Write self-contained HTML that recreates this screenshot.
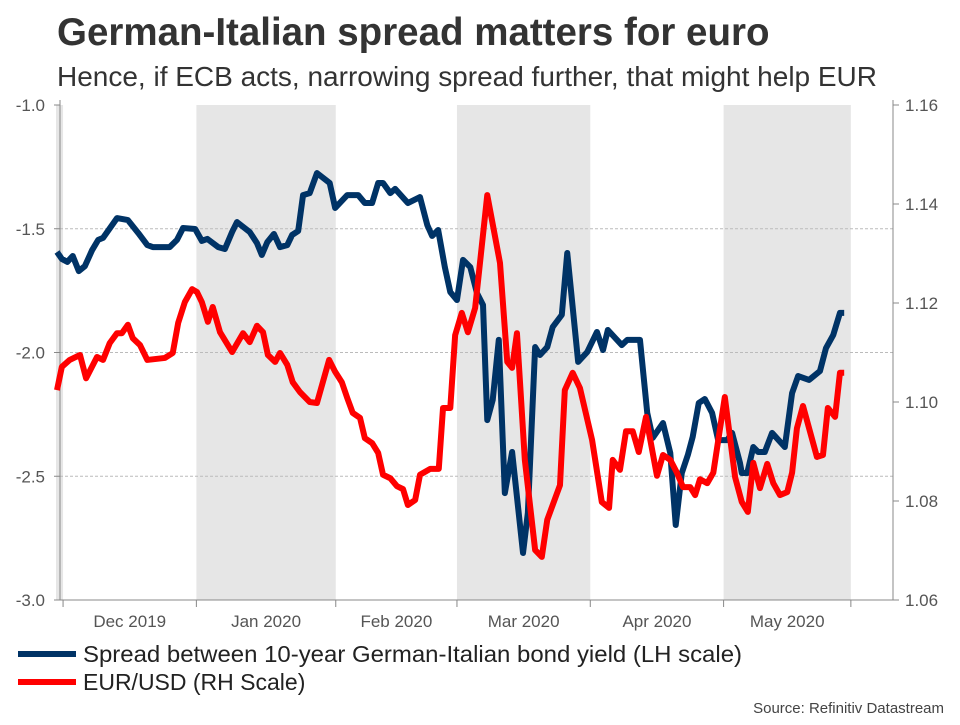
<!DOCTYPE html>
<html><head><meta charset="utf-8"><style>
body{margin:0;background:#fff;width:960px;height:720px;overflow:hidden;font-family:"Liberation Sans",Arial,sans-serif}
svg text{font-family:"Liberation Sans",Arial,sans-serif}
</style></head><body>
<svg id="chart" width="960" height="720" xmlns="http://www.w3.org/2000/svg">
<text x="57" y="45" font-size="38.5" font-weight="bold" fill="#333">German-Italian spread matters for euro</text>
<text x="57" y="86" font-size="28" fill="#333" textLength="820" lengthAdjust="spacingAndGlyphs">Hence, if ECB acts, narrowing spread further, that might help EUR</text>
<g id="bands"></g><g id="grid"></g><g id="axes"></g><g id="lines"></g>
<line x1="18" y1="654" x2="76" y2="654" stroke="#003366" stroke-width="6"/>
<text x="83" y="662" font-size="23" fill="#222" textLength="659" lengthAdjust="spacingAndGlyphs">Spread between 10-year German-Italian bond yield (LH scale)</text>
<line x1="18" y1="682" x2="76" y2="682" stroke="#ff0000" stroke-width="6"/>
<text x="83" y="690" font-size="23" fill="#222">EUR/USD (RH Scale)</text>
<text x="944" y="713" font-size="15" fill="#444" text-anchor="end">Source: Refinitiv Datastream</text>
</svg>
<script>
const leftTicks=[-1.0,-1.5,-2.0,-2.5,-3.0];
const rightTicks=[1.16,1.14,1.12,1.10,1.08,1.06];
const monthLabels=["Dec 2019","Jan 2020","Feb 2020","Mar 2020","Apr 2020","May 2020"];
const monthStarts=[1,23,46,66,88,110];
const monthEnds=[23,46,66,88,110,131];
const shadedBands=[[-1,1],[23,46],[66,88],[110,131]];
const spreadT=[0,0.8,1.7,2.6,3.6,4.6,5.8,6.8,7.6,9.9,11.7,13.4,14.9,15.8,18.6,19.8,20.8,22.8,23.9,24.8,26.6,27.7,28.9,29.7,31.8,33.0,33.8,34.7,35.8,36.8,38.0,38.8,39.8,40.6,41.7,42.9,45.0,45.9,47.9,49.7,50.8,52.0,53.0,53.8,55.0,55.8,57.9,59.9,61.1,61.9,62.9,64.0,64.9,66.0,67.0,68.2,69.3,70.3,71.0,71.9,72.9,73.9,75.1,76.9,77.7,78.9,79.7,80.9,81.8,83.3,84.2,86.0,87.5,89.1,90.1,90.9,92.1,93.2,94.1,96.2,97.4,98.3,100.0,101.2,102.1,103.1,104.1,104.9,105.9,106.9,108.1,109.1,110.6,111.4,112.7,113.0,113.9,114.9,115.7,116.8,118.0,120.1,121.3,122.3,124.1,125.9,126.9,128.1,129.2,129.9];
const spreadV=[-1.594,-1.622,-1.634,-1.610,-1.671,-1.651,-1.586,-1.545,-1.537,-1.457,-1.465,-1.517,-1.566,-1.574,-1.574,-1.545,-1.497,-1.501,-1.549,-1.541,-1.574,-1.582,-1.513,-1.473,-1.513,-1.558,-1.606,-1.554,-1.521,-1.574,-1.566,-1.525,-1.509,-1.364,-1.356,-1.275,-1.315,-1.416,-1.364,-1.364,-1.396,-1.396,-1.315,-1.315,-1.356,-1.339,-1.396,-1.372,-1.485,-1.529,-1.505,-1.655,-1.756,-1.788,-1.626,-1.655,-1.760,-1.808,-2.273,-2.192,-1.949,-2.568,-2.402,-2.810,-2.648,-1.978,-2.010,-1.978,-1.897,-1.848,-1.598,-2.038,-1.998,-1.917,-1.990,-1.909,-1.941,-1.970,-1.949,-1.949,-2.244,-2.345,-2.285,-2.406,-2.697,-2.487,-2.414,-2.341,-2.204,-2.188,-2.244,-2.354,-2.354,-2.325,-2.446,-2.487,-2.487,-2.382,-2.402,-2.402,-2.325,-2.382,-2.164,-2.095,-2.111,-2.075,-1.982,-1.929,-1.840,-1.840];
const eurT=[0,0.8,2.1,3.8,4.8,6.6,7.6,8.7,9.9,10.7,11.7,12.5,13.7,14.9,17.8,19.1,20.0,21.1,22.3,23.1,23.9,24.9,25.7,26.9,28.9,30.7,31.8,33.0,34.0,34.8,36.0,36.8,38.0,38.9,40.1,41.7,42.9,44.9,45.9,47.0,47.9,48.8,50.0,50.8,52.0,53.0,53.8,55.0,56.1,57.1,57.9,59.1,59.9,61.6,63.0,63.7,64.9,65.7,66.8,67.8,69.0,71.0,73.1,74.3,75.1,75.9,77.2,78.9,80.0,80.9,83.0,83.8,85.1,86.3,88.3,89.9,91.1,91.7,92.9,93.9,95.0,96.0,97.2,99.0,100.0,101.2,102.3,103.3,104.5,105.3,106.1,107.3,108.3,110.2,111.9,113.0,114.0,114.9,116.0,117.2,118.2,119.3,120.5,121.3,122.1,123.1,125.4,126.4,127.2,128.4,129.2,129.9];
const eurV=[1.1024,1.1071,1.1085,1.1095,1.1048,1.1091,1.1085,1.1119,1.1139,1.1139,1.1156,1.1129,1.1115,1.1085,1.1089,1.1099,1.1160,1.1202,1.1228,1.1222,1.1202,1.1162,1.1192,1.1141,1.1101,1.1139,1.1121,1.1154,1.1141,1.1095,1.1081,1.1099,1.1075,1.1040,1.1020,1.1000,1.0998,1.1085,1.1061,1.1040,1.1008,1.0978,1.0968,1.0927,1.0917,1.0897,1.0853,1.0846,1.0830,1.0824,1.0792,1.0802,1.0853,1.0865,1.0865,1.0988,1.0988,1.1135,1.1180,1.1141,1.1190,1.1418,1.1281,1.1081,1.1069,1.1139,1.0883,1.0701,1.0687,1.0762,1.0832,1.1024,1.1059,1.1028,1.0923,1.0798,1.0786,1.0883,1.0863,1.0941,1.0941,1.0899,1.0970,1.0851,1.0893,1.0883,1.0857,1.0828,1.0828,1.0812,1.0844,1.0836,1.0857,1.1010,1.0848,1.0798,1.0778,1.0877,1.0826,1.0875,1.0836,1.0812,1.0818,1.0857,1.0947,1.0992,1.0889,1.0893,1.0988,1.0970,1.1059,1.1059];

const NS="http://www.w3.org/2000/svg";
const X0=57,PXD=6.06,TOP=105,BOT=600,LEFTX=60,RIGHTX=893;
function x(t){return X0+t*PXD;}
function yL(v){return TOP+(-1-v)/2*(BOT-TOP);}
function yR(v){return TOP+(1.16-v)/0.1*(BOT-TOP);}
function mk(tag,attrs,parent){const e=document.createElementNS(NS,tag);for(const k in attrs)e.setAttribute(k,attrs[k]);parent.appendChild(e);return e;}
const bands=document.getElementById('bands'),grid=document.getElementById('grid'),axes=document.getElementById('axes'),lines=document.getElementById('lines');
shadedBands.forEach(b=>{
  const x1=Math.max(x(b[0]),LEFTX-4);
  const r=mk('rect',{x:x1,y:TOP,width:x(b[1])-x1,height:BOT-TOP,fill:'#e6e6e6'},bands);
  
  
});
leftTicks.forEach(v=>{
  const y=yL(v);
  if(v>-3&&v<-1){const g=mk('line',{x1:LEFTX,x2:RIGHTX,y1:y,y2:y,stroke:'#bbb','stroke-dasharray':'3,2','stroke-width':1},grid);
  
  }
  mk('line',{x1:LEFTX-6,x2:LEFTX,y1:y,y2:y,stroke:'#888'},axes);
  const t=mk('text',{x:45,y:y+6,'font-size':17,fill:'#555','text-anchor':'end'},axes);t.textContent=v.toFixed(1);
  
  
});
rightTicks.forEach(v=>{
  const y=yR(v);
  mk('line',{x1:RIGHTX,x2:RIGHTX+6,y1:y,y2:y,stroke:'#888'},axes);
  const t=mk('text',{x:905,y:y+6,'font-size':17,fill:'#555'},axes);t.textContent=v.toFixed(2);
  
  
});
const la=mk('line',{x1:LEFTX,x2:LEFTX,y1:TOP-5,y2:BOT,stroke:'#888'},axes);


const ra=mk('line',{x1:RIGHTX,x2:RIGHTX,y1:TOP-5,y2:BOT,stroke:'#888'},axes);


const xa=mk('line',{x1:LEFTX,x2:RIGHTX,y1:BOT,y2:BOT,stroke:'#888'},axes);


monthStarts.concat([monthEnds[5]]).forEach(t=>{mk('line',{x1:x(t),x2:x(t),y1:BOT,y2:BOT+7,stroke:'#888'},axes);});
monthLabels.forEach((m,i)=>{
  const t=mk('text',{x:x((monthStarts[i]+monthEnds[i])/2),y:627,'font-size':17,fill:'#555','text-anchor':'middle'},axes);t.textContent=m;
  
  
});
const sp=mk('polyline',{points:spreadT.map((t,i)=>x(t)+','+yL(spreadV[i])).join(' '),fill:'none',stroke:'#003366','stroke-width':6,'stroke-linejoin':'round'},lines);


const eu=mk('polyline',{points:eurT.map((t,i)=>x(t)+','+yR(eurV[i])).join(' '),fill:'none',stroke:'#ff0000','stroke-width':6,'stroke-linejoin':'round'},lines);


</script>
</body></html>
